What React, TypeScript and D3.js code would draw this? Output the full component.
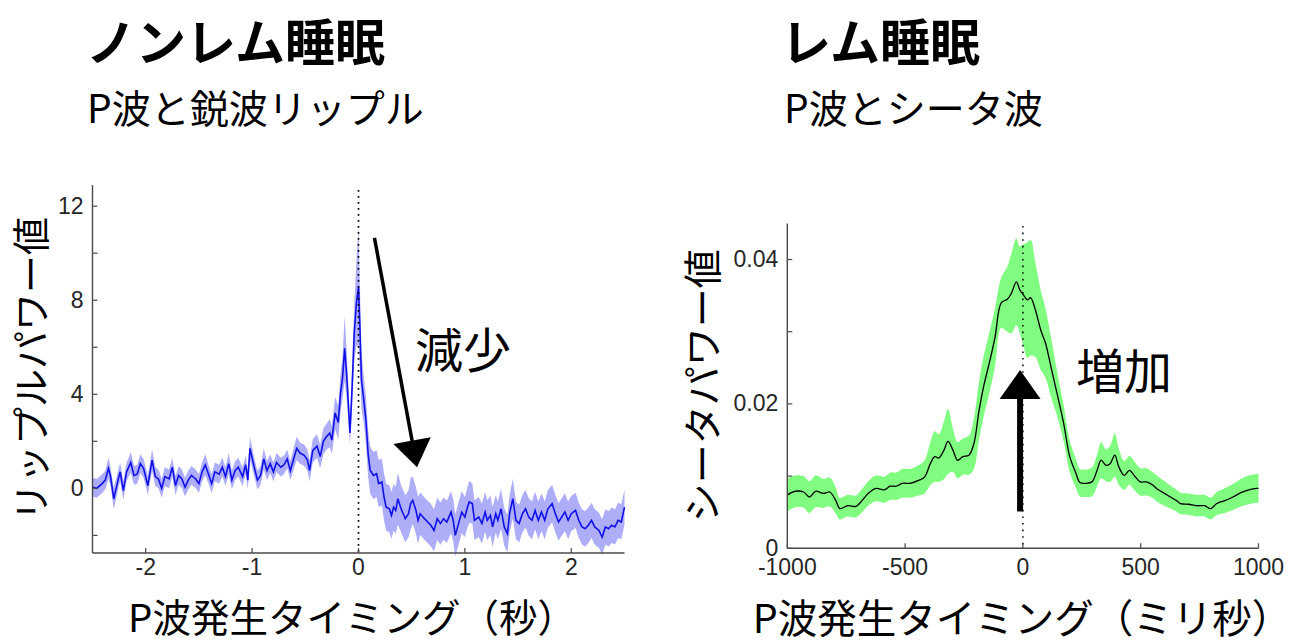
import React from "react";
import * as d3 from "d3";

// ---------- DATA ----------
// Left panel (NREM): [time (s), ripple power mean, half-width of shaded band]
const LEFT_SERIES: [number, number, number][] = [
  [-2.5, 0.05, 0.4], [-2.46, 0.0, 0.4], [-2.41, 0.2, 0.4], [-2.38, 0.35, 0.4], [-2.35, 0.85, 0.45],
  [-2.33, 0.5, 0.4], [-2.3, -0.45, 0.45], [-2.26, 0.35, 0.4], [-2.24, 0.7, 0.4], [-2.21, -0.1, 0.4],
  [-2.18, 0.7, 0.4], [-2.16, 0.9, 0.4], [-2.14, 1.1, 0.45], [-2.11, 0.55, 0.4], [-2.08, 0.6, 0.4],
  [-2.05, 1.05, 0.4], [-2.02, 0.85, 0.4], [-1.98, 0.12, 0.4], [-1.94, 1.2, 0.45], [-1.91, 0.5, 0.4],
  [-1.88, 0.4, 0.4], [-1.85, 0.0, 0.4], [-1.82, 0.5, 0.4], [-1.78, 0.4, 0.4], [-1.75, 0.9, 0.4],
  [-1.72, 0.12, 0.4], [-1.69, 0.55, 0.4], [-1.66, 0.4, 0.4], [-1.63, 0.05, 0.4], [-1.6, 0.35, 0.4],
  [-1.57, 0.55, 0.4], [-1.53, 0.4, 0.4], [-1.5, 0.2, 0.4], [-1.47, 0.7, 0.4], [-1.44, 1.0, 0.45],
  [-1.41, 0.6, 0.4], [-1.38, 0.2, 0.4], [-1.35, 0.7, 0.4], [-1.31, 0.6, 0.4], [-1.28, 0.9, 0.4],
  [-1.25, 0.5, 0.4], [-1.22, 1.05, 0.45], [-1.19, 0.35, 0.4], [-1.16, 0.75, 0.4], [-1.13, 0.9, 0.4],
  [-1.09, 0.5, 0.4], [-1.06, 1.0, 0.4], [-1.04, 0.35, 0.4], [-1.02, 1.7, 0.5], [-0.98, 0.9, 0.4],
  [-0.95, 0.35, 0.4], [-0.92, 0.55, 0.4], [-0.89, 1.25, 0.45], [-0.86, 0.75, 0.4], [-0.83, 1.05, 0.4],
  [-0.8, 0.7, 0.4], [-0.77, 1.1, 0.4], [-0.73, 0.9, 0.4], [-0.7, 1.0, 0.4], [-0.67, 1.25, 0.4],
  [-0.64, 0.75, 0.4], [-0.61, 1.25, 0.45], [-0.58, 1.7, 0.5], [-0.55, 1.5, 0.45], [-0.51, 1.4, 0.45],
  [-0.48, 1.2, 0.45], [-0.46, 0.75, 0.45], [-0.43, 1.6, 0.5], [-0.39, 1.8, 0.5], [-0.36, 1.35, 0.5],
  [-0.33, 2.0, 0.55], [-0.3, 2.2, 0.55], [-0.27, 2.35, 0.6], [-0.25, 2.05, 0.6], [-0.22, 3.2, 0.7],
  [-0.19, 2.8, 0.7], [-0.17, 4.0, 0.8], [-0.15, 4.7, 0.9], [-0.13, 5.95, 1.4], [-0.11, 4.75, 1.0],
  [-0.08, 2.35, 0.5], [-0.06, 4.3, 0.8], [-0.04, 6.6, 1.2], [-0.02, 7.85, 1.8], [0.0, 8.57, 2.5],
  [0.013, 6.86, 1.8], [0.028, 4.6, 1.2], [0.05, 3.74, 1.0], [0.07, 2.9, 1.0], [0.09, 1.48, 1.0],
  [0.11, 0.77, 1.0], [0.14, 0.55, 1.0], [0.17, 0.62, 1.0], [0.19, 0.2, 1.0], [0.22, 0.27, 1.0],
  [0.24, -0.37, 1.0], [0.26, -0.8, 1.0], [0.29, -0.87, 1.0], [0.31, -1.15, 1.0], [0.33, -0.8, 1.0],
  [0.35, -0.94, 1.0], [0.37, -0.44, 1.1], [0.4, -0.87, 1.0], [0.42, -1.08, 1.0], [0.44, -1.29, 1.0],
  [0.47, -1.08, 1.0], [0.49, -0.65, 1.1], [0.51, -0.51, 1.0], [0.54, -0.94, 1.0], [0.56, -1.36, 1.0],
  [0.58, -1.08, 0.9], [0.62, -1.29, 0.9], [0.65, -1.43, 0.9], [0.68, -1.57, 0.9], [0.71, -1.79, 0.9],
  [0.74, -1.29, 0.9], [0.77, -1.5, 0.9], [0.8, -1.29, 0.9], [0.83, -1.43, 0.9], [0.87, -1.01, 0.9],
  [0.89, -1.36, 0.9], [0.91, -2.0, 0.9], [0.94, -1.5, 0.9], [0.97, -1.01, 0.9], [1.0, -1.22, 0.85],
  [1.02, -0.87, 0.85], [1.04, -0.58, 0.9], [1.07, -0.65, 0.85], [1.09, -1.36, 0.85], [1.13, -1.22, 0.85],
  [1.16, -1.5, 0.85], [1.19, -1.01, 0.85], [1.21, -1.36, 0.85], [1.24, -1.15, 0.85], [1.26, -1.64, 0.85],
  [1.29, -1.08, 0.8], [1.31, -1.36, 0.8], [1.34, -0.87, 0.85], [1.37, -1.64, 0.8], [1.4, -1.93, 0.8],
  [1.42, -1.08, 0.8], [1.45, -0.44, 0.85], [1.48, -1.36, 0.8], [1.51, -1.5, 0.8], [1.54, -1.08, 0.8],
  [1.57, -0.87, 0.8], [1.6, -1.22, 0.8], [1.63, -1.36, 0.8], [1.66, -0.94, 0.8], [1.69, -1.36, 0.8],
  [1.72, -1.01, 0.8], [1.75, -1.36, 0.8], [1.78, -0.87, 0.8], [1.82, -0.65, 0.8], [1.85, -1.08, 0.8],
  [1.88, -1.43, 0.8], [1.91, -1.22, 0.8], [1.94, -1.01, 0.8], [1.97, -1.36, 0.8], [2.0, -1.08, 0.75],
  [2.04, -0.94, 0.75], [2.07, -1.36, 0.75], [2.1, -1.64, 0.75], [2.13, -1.72, 0.75], [2.16, -1.57, 0.75],
  [2.19, -1.36, 0.75], [2.22, -1.64, 0.75], [2.26, -1.79, 0.75], [2.29, -2.07, 0.75], [2.32, -1.64, 0.75],
  [2.35, -1.72, 0.75], [2.38, -1.57, 0.75], [2.41, -1.64, 0.75], [2.44, -1.36, 0.75], [2.47, -1.43, 0.75],
  [2.5, -0.8, 0.75],
];

// Right panel (REM): [time (ms), theta power mean, half-width of shaded band]
const RIGHT_SERIES: [number, number, number][] = [
  [-1000, 0.0074, 0.0023], [-966, 0.0079, 0.0022], [-931, 0.0078, 0.0022], [-906, 0.0071, 0.0022],
  [-880, 0.0079, 0.0022], [-846, 0.0076, 0.002], [-820, 0.0078, 0.002], [-794, 0.0066, 0.0018],
  [-777, 0.0055, 0.0015], [-743, 0.0059, 0.0015], [-709, 0.0058, 0.0015], [-683, 0.0066, 0.0016],
  [-657, 0.0076, 0.0017], [-623, 0.0083, 0.0018], [-589, 0.0081, 0.0018], [-563, 0.0086, 0.0019],
  [-537, 0.0086, 0.0019], [-512, 0.009, 0.002], [-478, 0.009, 0.002], [-443, 0.0094, 0.0021],
  [-417, 0.0099, 0.0023], [-392, 0.0118, 0.003], [-374, 0.0127, 0.0035], [-357, 0.0125, 0.0033],
  [-335, 0.0136, 0.004], [-318, 0.0148, 0.0045], [-297, 0.0136, 0.003], [-277, 0.0122, 0.0025],
  [-255, 0.0127, 0.0025], [-229, 0.0129, 0.0027], [-208, 0.0145, 0.0035], [-186, 0.0191, 0.004],
  [-164, 0.0228, 0.0042], [-143, 0.0256, 0.0042], [-118, 0.0293, 0.004], [-92, 0.034, 0.0035],
  [-66, 0.0345, 0.0045], [-49, 0.0353, 0.0055], [-28, 0.0369, 0.006], [-13, 0.0358, 0.006],
  [2, 0.0351, 0.007], [19, 0.0344, 0.008], [33, 0.0347, 0.008], [53, 0.033, 0.0065],
  [76, 0.0302, 0.0055], [96, 0.0284, 0.0048], [122, 0.0247, 0.004], [148, 0.021, 0.003],
  [173, 0.0173, 0.0025], [199, 0.0127, 0.0022], [225, 0.0104, 0.002], [242, 0.0091, 0.0019],
  [267, 0.009, 0.0019], [293, 0.0092, 0.002], [315, 0.0108, 0.0022], [332, 0.0122, 0.0025],
  [353, 0.0115, 0.0022], [370, 0.0117, 0.0025], [390, 0.0129, 0.003], [407, 0.0113, 0.0025],
  [430, 0.0101, 0.002], [452, 0.0108, 0.002], [472, 0.0101, 0.002], [498, 0.0092, 0.0019],
  [524, 0.0092, 0.0019], [549, 0.0088, 0.0018], [575, 0.0081, 0.0018], [601, 0.0076, 0.0017],
  [626, 0.0071, 0.0016], [652, 0.0066, 0.0015], [669, 0.0062, 0.0015], [703, 0.0061, 0.0015],
  [737, 0.0059, 0.0015], [771, 0.0059, 0.0015], [797, 0.0055, 0.0015], [823, 0.0062, 0.0016],
  [857, 0.0066, 0.0017], [891, 0.0071, 0.0018], [925, 0.0077, 0.0019], [959, 0.0081, 0.002],
  [993, 0.0083, 0.002], [1000, 0.0083, 0.002],
];

const LEFT_X_TICKS = [-2, -1, 0, 1, 2];
const LEFT_Y_TICKS = [-2, 0, 2, 4, 6, 8, 10, 12];
const LEFT_Y_LABELS = [0, 4, 8, 12];
const RIGHT_X_TICKS = [-1000, -500, 0, 500, 1000];
const RIGHT_Y_TICKS = [0, 0.01, 0.02, 0.03, 0.04];
const RIGHT_Y_LABELS = [0, 0.02, 0.04];

// annotation arrows in data units: [x0, y0, x1(tip), y1(tip)]
const LEFT_ARROW = [0.15, 10.65, 0.55, 0.9];
const RIGHT_ARROW = [-12, 0.0051, -12, 0.0247];

const TEXT = {
  leftTitle: "ノンレム睡眠",
  leftSub: "P波と鋭波リップル",
  rightTitle: "レム睡眠",
  rightSub: "P波とシータ波",
  leftY: "リップルパワー値",
  rightY: "シータパワー値",
  leftX: "P波発生タイミング（秒）",
  rightX: "P波発生タイミング（ミリ秒）",
  leftNote: "減少",
  rightNote: "増加",
};

const JP = "'Noto Sans CJK JP', 'Noto Sans', sans-serif";
const NUM = "'Liberation Sans', Arial, Helvetica, sans-serif";
const AX = "#4a4a4a";
const TXT = "#262626";

function Arrow({ x0, y0, x1, y1, width, headLen, headHalf }: any) {
  const dx = x1 - x0, dy = y1 - y0;
  const L = Math.hypot(dx, dy);
  const ux = dx / L, uy = dy / L;
  const bx = x1 - ux * headLen, by = y1 - uy * headLen;
  const px = -uy, py = ux;
  return (
    <g>
      <line x1={x0} y1={y0} x2={bx + ux * 2} y2={by + uy * 2} stroke="#000" strokeWidth={width} />
      <polygon
        points={`${x1},${y1} ${bx + px * headHalf},${by + py * headHalf} ${bx - px * headHalf},${by - py * headHalf}`}
        fill="#000"
      />
    </g>
  );
}

function Axes({ x, y, xTicks, yTicks, yLabels, xFmt, yFmt }: any) {
  const [x0, x1] = x.range();
  const [y0, y1] = y.range(); // y0 bottom, y1 top
  const tl = 5;
  return (
    <g>
      <line x1={x0} y1={y0} x2={x1} y2={y0} stroke={AX} strokeWidth={1.4} />
      <line x1={x0} y1={y0} x2={x0} y2={y1} stroke={AX} strokeWidth={1.4} />
      {xTicks.map((t: number) => (
        <g key={"x" + t}>
          <line x1={x(t)} x2={x(t)} y1={y0} y2={y0 - tl} stroke={AX} strokeWidth={1.2} />
          <text x={x(t)} y={575} textAnchor="middle" fontFamily={NUM} fontSize={23} fill={TXT}>
            {xFmt(t)}
          </text>
        </g>
      ))}
      {yTicks.map((t: number) => (
        <line key={"y" + t} x1={x0} x2={x0 + tl} y1={y(t)} y2={y(t)} stroke={AX} strokeWidth={1.2} />
      ))}
      {yLabels.map((t: number) => (
        <text key={"yl" + t} x={x0 - 9} y={y(t)} dy="0.33em" textAnchor="end" fontFamily={NUM} fontSize={23} fill={TXT}>
          {yFmt(t)}
        </text>
      ))}
    </g>
  );
}

export default function App() {
  // Left scales
  const xL = d3.scaleLinear().domain([-2.5, 2.5]).range([92.5, 624.5]);
  const yL = d3.scaleLinear().domain([-2.75, 12.9]).range([553, 185]);
  // Right scales
  const xR = d3.scaleLinear().domain([-1000, 1000]).range([787.3, 1258.5]);
  const yR = d3.scaleLinear().domain([0, 0.045]).range([548.3, 223.4]);

  const areaL = d3
    .area<[number, number, number]>()
    .x((d) => xL(d[0]))
    .y0((d) => yL(d[1] - d[2]))
    .y1((d) => yL(d[1] + d[2]));
  const lineL = d3
    .line<[number, number, number]>()
    .x((d) => xL(d[0]))
    .y((d) => yL(d[1]));

  const areaR = d3
    .area<[number, number, number]>()
    .curve(d3.curveCatmullRom)
    .x((d) => xR(d[0]))
    .y0((d) => yR(d[1] - d[2]))
    .y1((d) => yR(d[1] + d[2]));
  const lineR = d3
    .line<[number, number, number]>()
    .curve(d3.curveCatmullRom)
    .x((d) => xR(d[0]))
    .y((d) => yR(d[1]));

  const fmtR = (v: number) => (v === 0 ? "0" : d3.format(".2f")(v));

  return (
    <svg
      width={1301}
      height={644}
      style={{ position: "absolute", left: 0, top: 0, background: "#fff" }}
    >
      <rect width={1301} height={644} fill="#fff" />
      {/* Titles */}
      <text x={86} y={39} dominantBaseline="central" fontFamily={JP} fontWeight={700} fontSize={50} fill="#000">
        {TEXT.leftTitle}
      </text>
      <text x={87} y={106} dominantBaseline="central" fontFamily={JP} fontSize={39} fill="#000">
        {TEXT.leftSub}
      </text>
      <text x={781} y={39} dominantBaseline="central" fontFamily={JP} fontWeight={700} fontSize={50} fill="#000">
        {TEXT.rightTitle}
      </text>
      <text x={784} y={106} dominantBaseline="central" fontFamily={JP} fontSize={39} fill="#000">
        {TEXT.rightSub}
      </text>

      {/* Left panel */}
      <path d={areaL(LEFT_SERIES) || ""} fill="#aeaef8" stroke="none" />
      <path d={lineL(LEFT_SERIES) || ""} fill="none" stroke="#1010e8" strokeWidth={1.6} />
      <line x1={xL(0)} x2={xL(0)} y1={190} y2={yL.range()[0]} stroke="#000" strokeWidth={1.7} strokeDasharray="1.7,4.3" />
      <Axes x={xL} y={yL} xTicks={LEFT_X_TICKS} yTicks={LEFT_Y_TICKS} yLabels={LEFT_Y_LABELS} xFmt={(v: number) => String(v)} yFmt={(v: number) => String(v)} />
      <Arrow x0={xL(LEFT_ARROW[0])} y0={yL(LEFT_ARROW[1])} x1={xL(LEFT_ARROW[2])} y1={yL(LEFT_ARROW[3])} width={3.5} headLen={27} headHalf={19} />
      <text x={415} y={347} dominantBaseline="central" fontFamily={JP} fontSize={48} fill="#000">
        {TEXT.leftNote}
      </text>
      <text transform={`translate(28, ${(yL.range()[0] + yL.range()[1]) / 2}) rotate(-90)`} textAnchor="middle" dominantBaseline="central" fontFamily={JP} fontSize={38} fill="#000">
        {TEXT.leftY}
      </text>
      <text x={352} y={615} textAnchor="middle" dominantBaseline="central" fontFamily={JP} fontSize={38.5} fill="#000">
        {TEXT.leftX}
      </text>

      {/* Right panel */}
      <path d={areaR(RIGHT_SERIES) || ""} fill="#80fc80" stroke="none" />
      <path d={lineR(RIGHT_SERIES) || ""} fill="none" stroke="#000" strokeWidth={1.3} />
      <line x1={xR(0)} x2={xR(0)} y1={226} y2={yR.range()[0]} stroke="#000" strokeWidth={1.5} strokeDasharray="1.6,5" />
      <Axes x={xR} y={yR} xTicks={RIGHT_X_TICKS} yTicks={RIGHT_Y_TICKS} yLabels={RIGHT_Y_LABELS} xFmt={(v: number) => String(v)} yFmt={fmtR} />
      <Arrow x0={xR(RIGHT_ARROW[0])} y0={yR(RIGHT_ARROW[1])} x1={xR(RIGHT_ARROW[2])} y1={yR(RIGHT_ARROW[3])} width={6} headLen={29} headHalf={20.5} />
      <text x={1076} y={368} dominantBaseline="central" fontFamily={JP} fontSize={48} fill="#000">
        {TEXT.rightNote}
      </text>
      <text transform={`translate(700, ${(yR.range()[0] + yR.range()[1]) / 2}) rotate(-90)`} textAnchor="middle" dominantBaseline="central" fontFamily={JP} fontSize={39} fill="#000">
        {TEXT.rightY}
      </text>
      <text x={1022} y={615} textAnchor="middle" dominantBaseline="central" fontFamily={JP} fontSize={39.5} fill="#000">
        {TEXT.rightX}
      </text>
    </svg>
  );
}
